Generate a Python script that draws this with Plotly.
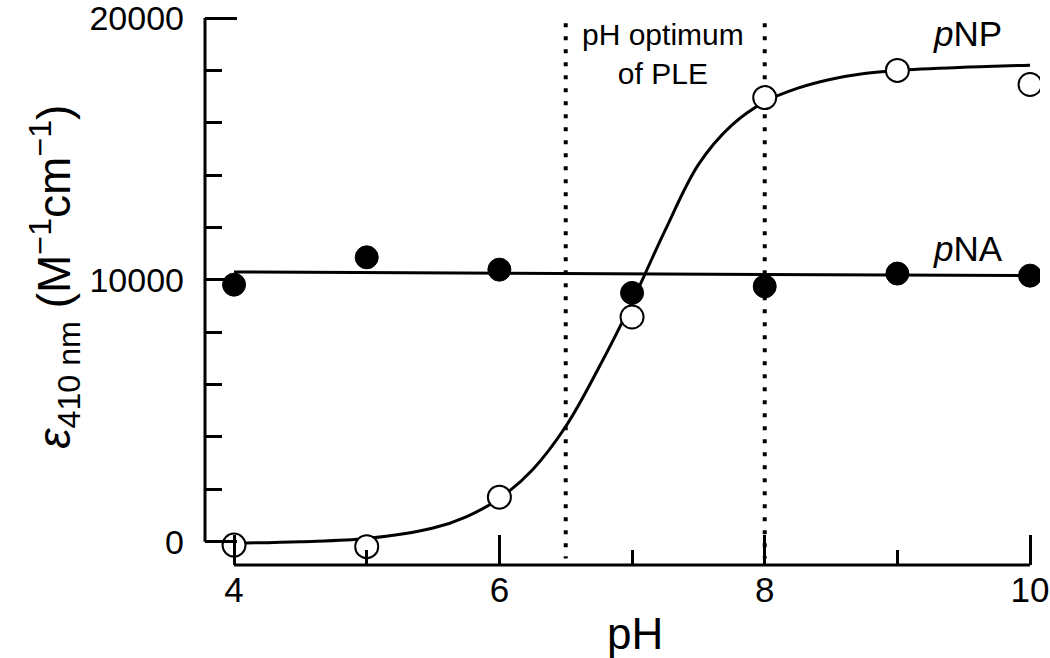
import plotly.graph_objects as go

# ---- data ----
ph_points = [4, 5, 6, 7, 8, 9, 10]
pnp_eps = [-130, -190, 1700, 8580, 16960, 18000, 17460]      # open circles
pna_eps = [9816, 10860, 10390, 9500, 9750, 10240, 10160]     # filled circles

pnp_fit_ph = [4, 4.5, 5, 5.5, 5.75, 6, 6.25, 6.5, 6.75, 7, 7.1, 7.25, 7.5,
              7.75, 8, 8.25, 8.5, 8.75, 9, 9.5, 10]
pnp_fit_eps = [-60, 0, 120, 520, 950, 1650, 2750, 4400, 6650, 9150, 10250,
               11900, 14400, 15900, 16800, 17320, 17660, 17880, 18000, 18120, 18200]

pna_fit_ph = [4, 10]
pna_fit_eps = [10300, 10160]

ple_optimum = [6.5, 8.0]

x_ticks = [4, 6, 8, 10]
x_minor = [5, 7, 9]
y_ticks = [0, 10000, 20000]
y_tick_text = ["0", "10000", "20000"]
y_minor = [2000, 4000, 6000, 8000, 12000, 14000, 16000, 18000]

FONT = "Liberation Sans, Arial, sans-serif"
BLACK = "#000000"

fig = go.Figure()

fig.add_trace(go.Scatter(x=pna_fit_ph, y=pna_fit_eps, mode="lines",
                         line=dict(color=BLACK, width=3), showlegend=False,
                         hoverinfo="skip"))
fig.add_trace(go.Scatter(x=pnp_fit_ph, y=pnp_fit_eps, mode="lines",
                         line=dict(color=BLACK, width=3, shape="spline", smoothing=1.0),
                         showlegend=False, hoverinfo="skip"))
fig.add_trace(go.Scatter(x=ph_points, y=pna_eps, mode="markers",
                         marker=dict(size=23, color=BLACK, line=dict(color=BLACK, width=1)),
                         showlegend=False, name="pNA"))
fig.add_trace(go.Scatter(x=ph_points, y=pnp_eps, mode="markers",
                         marker=dict(size=23, color="white", line=dict(color=BLACK, width=2)),
                         showlegend=False, name="pNP"))

# pH optimum dotted lines
for xv in ple_optimum:
    fig.add_shape(type="line", xref="x", yref="y", x0=xv, x1=xv, y0=19800, y1=-640,
                  line=dict(color=BLACK, width=4, dash="4px,9px"), layer="below")

# detached spines
fig.add_shape(type="line", xref="paper", yref="y", x0=0, x1=0, y0=0, y1=20000,
              line=dict(color=BLACK, width=3))
fig.add_shape(type="line", xref="x", yref="paper", x0=4, x1=10, y0=0, y1=0,
              line=dict(color=BLACK, width=3))

fig.add_annotation(x=7.23, y=18640, xref="x", yref="y",
                   text="pH optimum<br>of PLE", showarrow=False,
                   xanchor="center", yanchor="middle",
                   font=dict(family=FONT, size=30, color=BLACK), align="center")
fig.add_annotation(x=9.53, y=19400, xref="x", yref="y",
                   text="<i>p</i>NP", showarrow=False,
                   xanchor="center", yanchor="middle",
                   font=dict(family=FONT, size=35, color=BLACK))
fig.add_annotation(x=9.53, y=11200, xref="x", yref="y",
                   text="<i>p</i>NA", showarrow=False,
                   xanchor="center", yanchor="middle",
                   font=dict(family=FONT, size=35, color=BLACK))

# axis titles
fig.add_annotation(x=7.02, y=-0.123, xref="x", yref="paper",
                   text="pH", showarrow=False, xanchor="center", yanchor="middle",
                   font=dict(family=FONT, size=44, color=BLACK))
fig.add_annotation(x=-0.18, y=0.519, xref="paper", yref="paper",
                   text="<i>ε</i><sub>410 nm</sub> (M<sup>−1</sup>cm<sup>−1</sup>)",
                   textangle=-90, showarrow=False, xanchor="center", yanchor="middle",
                   font=dict(family=FONT, size=46, color=BLACK))

fig.update_layout(
    width=1050, height=658,
    margin=dict(l=205, r=10, t=10, b=93),
    paper_bgcolor="white", plot_bgcolor="white",
    font=dict(family=FONT, color=BLACK),
    xaxis=dict(range=[3.781, 10.075], showgrid=False, zeroline=False, showline=False,
               automargin=False, ticklabeloverflow="allow",
               tickvals=x_ticks, ticks="inside", ticklen=30, tickwidth=3, tickcolor=BLACK,
               tickfont=dict(size=35, family=FONT), ticklabelstandoff=1,
               minor=dict(tickvals=x_minor, ticks="inside", ticklen=15, tickwidth=3,
                          tickcolor=BLACK, showgrid=False)),
    yaxis=dict(range=[-891, 20306], showgrid=False, zeroline=False, showline=False,
               automargin=False, ticklabeloverflow="allow",
               tickvals=y_ticks, ticktext=y_tick_text, ticks="inside", ticklen=32,
               tickwidth=3, tickcolor=BLACK,
               tickfont=dict(size=34, family=FONT), ticklabelstandoff=20,
               minor=dict(tickvals=y_minor, ticks="inside", ticklen=17, tickwidth=3,
                          tickcolor=BLACK, showgrid=False)),
)

fig.write_html("out.html", config={"displayModeBar": False},
               post_script="document.body.style.margin='0';document.body.style.overflow='hidden';")
